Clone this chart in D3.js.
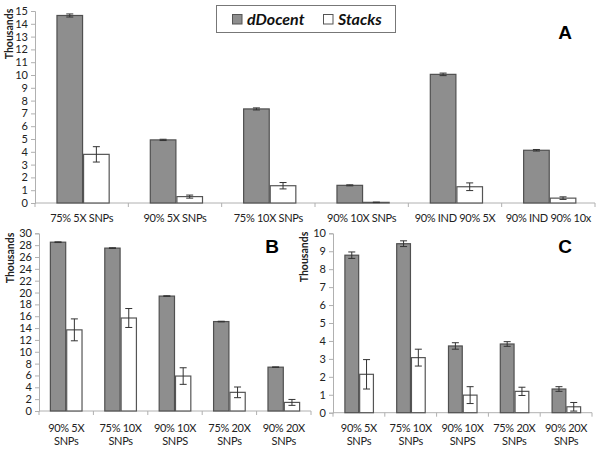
<!DOCTYPE html>
<html><head><meta charset="utf-8">
<script src="https://cdn.jsdelivr.net/npm/d3@7"></script>
<style>body{margin:0;background:#fff}svg{display:block}</style>
</head><body>
<svg id="c" width="600" height="451"></svg>
<script>
const series = ["dDocent", "Stacks"];

const catsA = ["75% 5X SNPs", "90% 5X SNPs", "75% 10X SNPs", "90% 10X SNPs", "90% IND 90% 5X", "90% IND 90% 10x"];
const dDocentA = [14.65, 4.93, 7.35, 1.38, 10.05, 4.12];
const dDocentErrA = [0.12, 0.05, 0.08, 0.04, 0.1, 0.06];
const stacksA = [3.8, 0.5, 1.35, 0.05, 1.27, 0.38];
const stacksErrA = [0.6, 0.12, 0.25, 0.02, 0.3, 0.1];
const ticksA = [0,1,2,3,4,5,6,7,8,9,10,11,12,13,14,15];

const catsB = [["90% 5X","SNPs"], ["75% 10X","SNPs"], ["90% 10X","SNPS"], ["75% 20X","SNPs"], ["90% 20X","SNPs"]];
const dDocentB = [28.5, 27.5, 19.4, 15.1, 7.4];
const dDocentErrB = [0.06, 0.06, 0.05, 0.05, 0.04];
const stacksB = [13.7, 15.7, 5.9, 3.15, 1.45];
const stacksErrB = [1.85, 1.6, 1.4, 0.9, 0.5];
const ticksB = [0,2,4,6,8,10,12,14,16,18,20,22,24,26,28,30];

const catsC = [["90% 5X","SNPs"], ["75% 10X","SNPs"], ["90% 10X","SNPS"], ["75% 20X","SNPs"], ["90% 20X","SNPs"]];
const dDocentC = [8.78, 9.42, 3.72, 3.83, 1.32];
const dDocentErrC = [0.18, 0.16, 0.18, 0.13, 0.13];
const stacksC = [2.14, 3.07, 0.98, 1.19, 0.33];
const stacksErrC = [0.82, 0.47, 0.47, 0.23, 0.24];
const ticksC = [0,1,2,3,4,5,6,7,8,9,10];

const svg = d3.select("#c");
const FONT = "Lato, 'Open Sans', sans-serif";
const FILL = {dDocent: "#8e8e8e", Stacks: "#ffffff"};
const STROKE = {dDocent: "#505050", Stacks: "#555555"};

function panel(o) {
  const g = svg.append("g");
  const x0 = d3.scaleBand().domain(d3.range(o.cats.length)).range([o.x0, o.x1]).padding(0);
  const bw = x0.bandwidth();
  const x1 = d3.scaleBand().domain(series).range([bw * o.inL, bw * o.inR]).padding(0);
  const y = d3.scaleLinear().domain([0, o.max]).range([o.y0, o.yTop]);

  // y axis
  const ya = g.append("g").attr("transform", `translate(${o.x0},0)`)
    .call(d3.axisLeft(y).tickValues(o.ticks).tickSize(4).tickPadding(3).tickFormat(d3.format("d")));
  ya.select(".domain").attr("stroke", "#b0b0b0");
  ya.selectAll(".tick line").attr("stroke", "#b0b0b0");
  ya.selectAll("text").attr("font-family", FONT).attr("font-size", 11).attr("fill", "#222");

  // x axis
  const xa = g.append("g").attr("transform", `translate(0,${o.y0})`);
  xa.append("line").attr("x1", o.x0).attr("x2", o.x1).attr("stroke", "#b0b0b0");
  xa.selectAll("line.t").data(d3.range(o.cats.length + 1)).join("line").attr("class", "t")
    .attr("x1", i => o.x0 + i * bw).attr("x2", i => o.x0 + i * bw)
    .attr("y1", 0).attr("y2", 4).attr("stroke", "#b0b0b0");

  const data = o.cats.map((c, i) => ({i, vals: [
    {s: "dDocent", v: o.d[i], e: o.de[i]},
    {s: "Stacks", v: o.s[i], e: o.se[i]}]}));

  const grp = g.selectAll("g.grp").data(data).join("g").attr("class", "grp")
    .attr("transform", d => `translate(${x0(d.i)},0)`);
  grp.selectAll("rect").data(d => d.vals).join("rect")
    .attr("x", d => x1(d.s) + 0.5).attr("width", x1.bandwidth() - 1)
    .attr("y", d => y(d.v)).attr("height", d => o.y0 - y(d.v))
    .attr("fill", d => FILL[d.s]).attr("stroke", d => STROKE[d.s]).attr("stroke-width", 1.2);
  const eb = grp.selectAll("g.eb").data(d => d.vals).join("g").attr("class", "eb")
    .attr("transform", d => `translate(${x1(d.s) + x1.bandwidth() / 2},0)`);
  eb.append("line").attr("y1", d => y(d.v + d.e)).attr("y2", d => y(d.v - d.e)).attr("stroke", "#333");
  eb.append("line").attr("x1", -3.5).attr("x2", 3.5).attr("y1", d => y(d.v + d.e)).attr("y2", d => y(d.v + d.e)).attr("stroke", "#333");
  eb.append("line").attr("x1", -3.5).attr("x2", 3.5).attr("y1", d => y(d.v - d.e)).attr("y2", d => y(d.v - d.e)).attr("stroke", "#333");

  // category labels
  const lab = g.selectAll("text.cat").data(o.cats).join("text").attr("class", "cat")
    .attr("font-family", FONT).attr("font-size", 11).attr("letter-spacing", -0.3)
    .attr("fill", "#222").attr("text-anchor", "middle")
    .attr("transform", (c, i) => `translate(${x0(i) + bw / 2},${o.labY})`);
  lab.each(function (c) {
    const lines = Array.isArray(c) ? c : [c];
    d3.select(this).selectAll("tspan").data(lines).join("tspan")
      .attr("x", 0).attr("dy", (l, k) => k === 0 ? 0 : 12.5).text(l => l);
  });

  // y title
  g.append("text").attr("transform", `translate(${o.titleX},${o.titleY}) rotate(-90)`)
    .attr("text-anchor", "middle").attr("font-family", FONT).attr("font-weight", "bold")
    .attr("font-size", 10.5).attr("fill", "#222").text("Thousands");

  // panel letter
  g.append("text").attr("x", o.letterX).attr("y", o.letterY).attr("text-anchor", "middle")
    .attr("font-family", "'Liberation Sans', Arial, sans-serif").attr("font-weight", "bold")
    .attr("font-size", 19).attr("fill", "#000").text(o.letter);
}

panel({cats: catsA, d: dDocentA, de: dDocentErrA, s: stacksA, se: stacksErrA, ticks: ticksA, max: 15,
  x0: 35, x1: 595, y0: 203, yTop: 11, inL: 0.23, inR: 0.80, labY: 222,
  titleX: 13, titleY: 34, letter: "A", letterX: 565, letterY: 39});
panel({cats: catsB, d: dDocentB, de: dDocentErrB, s: stacksB, se: stacksErrB, ticks: ticksB, max: 30,
  x0: 39, x1: 311, y0: 411, yTop: 233.3, inL: 0.2, inR: 0.8, labY: 432,
  titleX: 14, titleY: 258, letter: "B", letterX: 272, letterY: 253});
panel({cats: catsC, d: dDocentC, de: dDocentErrC, s: stacksC, se: stacksErrC, ticks: ticksC, max: 10,
  x0: 333, x1: 592, y0: 412.7, yTop: 233.3, inL: 0.22, inR: 0.79, labY: 432,
  titleX: 308, titleY: 257, letter: "C", letterX: 565, letterY: 253});

// legend
const lg = svg.append("g");
lg.append("rect").attr("x", 216.5).attr("y", 5.5).attr("width", 179).attr("height", 27)
  .attr("fill", "#fff").attr("stroke", "#777");
const items = lg.selectAll("g.it").data(series).join("g").attr("class", "it")
  .attr("transform", (s, i) => `translate(${i === 0 ? 232 : 323},0)`);
items.append("rect").attr("x", 0.5).attr("y", 14.5).attr("width", 9.5).attr("height", 9.5)
  .attr("fill", s => FILL[s]).attr("stroke", "#555");
items.append("text").attr("x", 15).attr("y", 25).attr("font-family", FONT)
  .attr("font-weight", "bold").attr("font-style", "italic").attr("font-size", 16).attr("fill", "#111")
  .text(s => s);
</script>
</body></html>
